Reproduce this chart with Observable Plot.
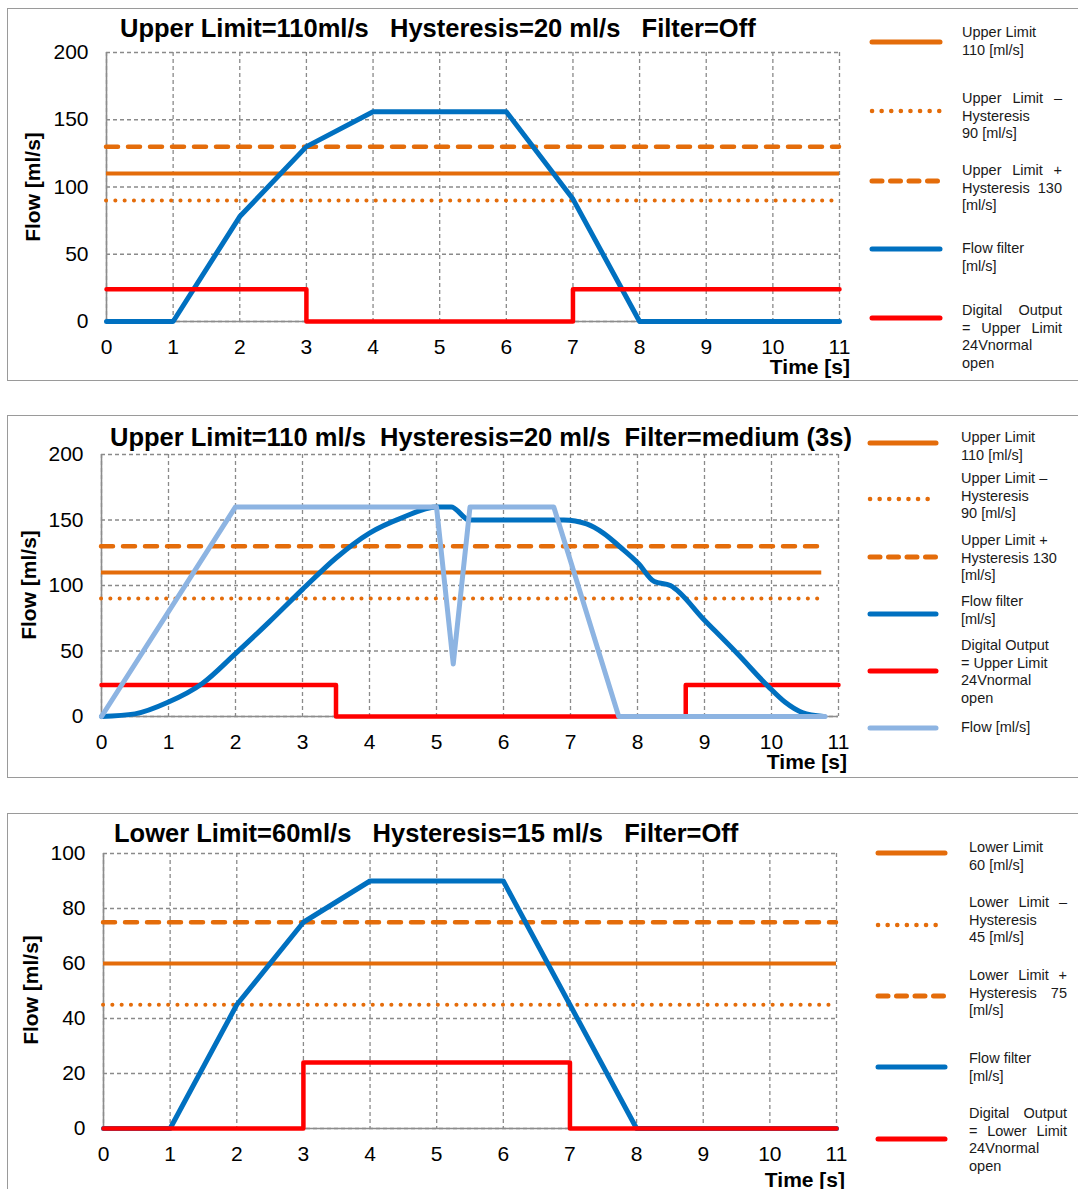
<!DOCTYPE html>
<html>
<head>
<meta charset="utf-8">
<script src="https://cdn.jsdelivr.net/npm/d3@7"></script>
<script src="https://cdn.jsdelivr.net/npm/@observablehq/plot@0.6"></script>
<style>
  html, body { margin: 0; padding: 0; background: #fff; }
  #page { position: relative; width: 1078px; height: 1189px; overflow: hidden; font-family: "Liberation Sans", Arial, sans-serif; color: #000; }
  .panel { position: absolute; left: 7px; width: 1100px; border: 1.5px solid #9a9a9a; box-sizing: border-box; }
  .abs { position: absolute; white-space: pre; }
  .title { font-weight: bold; font-size: 25.5px; line-height: 30px; }
  .ylab { font-weight: bold; font-size: 21px; line-height: 24px; transform: translate(-50%, -50%) rotate(-90deg); }
  .xlab { font-weight: bold; font-size: 21px; line-height: 15px; transform: translate(-100%, -50%); }
  .leg { font-size: 14.5px; line-height: 17.5px; color: #1a1a1a; }
  .just { text-align: justify; text-align-last: justify; white-space: normal; }
  svg.sw { position: absolute; left: 0; top: 0; overflow: visible; }
</style>
</head>
<body>
<div id="page"></div>
<script>
// ---------- data ----------
const ticksX = [0, 1, 2, 3, 4, 5, 6, 7, 8, 9, 10, 11];
const ticksY200 = [0, 50, 100, 150, 200];
const ticksY100 = [0, 20, 40, 60, 80, 100];

// Panel 1: Upper limit, filter off
const p1Title = "Upper Limit=110ml/s   Hysteresis=20 ml/s   Filter=Off";
const p1Time = [0, 1, 2, 3, 4, 6, 7, 8, 11];
const p1Flow = [0, 0, 78, 130, 156, 156, 91, 0, 0];
const p1DoTime = [0, 3, 7, 11];
const p1DoVal = [24, 0, 24, 24];
const p1Limits = [110, 90, 130]; // limit, limit - hyst, limit + hyst
const p1Span = [0, 11];
const p1Legend = [
  [["Upper Limit", 0], ["110 [ml/s]", 0]],
  [["Upper Limit –", 1], ["Hysteresis", 0], ["90 [ml/s]", 0]],
  [["Upper Limit +", 1], ["Hysteresis 130", 1], ["[ml/s]", 0]],
  [["Flow filter", 0], ["[ml/s]", 0]],
  [["Digital Output", 1], ["= Upper Limit", 1], ["24Vnormal", 0], ["open", 0]]
];

// Panel 2: Upper limit, filter medium
const p2Title = "Upper Limit=110 ml/s  Hysteresis=20 ml/s  Filter=medium (3s)";
const p2FlowTime = [0, 2, 5, 5.25, 5.5, 6.75, 7.72, 10.8];
const p2FlowVal = [0, 160, 160, 40, 160, 160, 0, 0];
const p2FiltTime = [0, 0.5, 1, 1.5, 2, 2.5, 3, 3.5, 4, 4.5, 5, 5.22, 5.49, 6.9, 7.24, 7.49, 7.75, 8.01, 8.25, 8.49, 9, 9.5, 9.95, 10.2, 10.46, 10.78];
const p2FiltVal = [0, 2, 11, 25, 48, 72, 97, 121, 140, 152, 160, 160, 150, 150, 147, 140, 129, 117, 103, 100, 73.5, 47.5, 23, 11, 3, 0];
const p2DoTime = [0, 3.5, 8.72, 11];
const p2DoVal = [24, 0, 24, 24];
const p2Limits = [110, 90, 130];
const p2Span = [0, 10.75];
const p2Legend = [
  [["Upper Limit", 0], ["110 [ml/s]", 0]],
  [["Upper Limit –", 0], ["Hysteresis", 0], ["90 [ml/s]", 0]],
  [["Upper Limit +", 0], ["Hysteresis 130", 0], ["[ml/s]", 0]],
  [["Flow filter", 0], ["[ml/s]", 0]],
  [["Digital Output", 0], ["= Upper Limit", 0], ["24Vnormal", 0], ["open", 0]],
  [["Flow [ml/s]", 0]]
];

// Panel 3: Lower limit, filter off
const p3Title = "Lower Limit=60ml/s   Hysteresis=15 ml/s   Filter=Off";
const p3Time = [0, 1, 2, 3, 4, 6, 7, 8, 11];
const p3Flow = [0, 0, 45, 75, 90, 90, 45, 0, 0];
const p3DoTime = [0, 3, 7, 11];
const p3DoVal = [0, 24, 0, 0];
const p3Limits = [60, 45, 75];
const p3Span = [0, 11];
const p3Legend = [
  [["Lower Limit", 0], ["60 [ml/s]", 0]],
  [["Lower Limit –", 1], ["Hysteresis", 0], ["45 [ml/s]", 0]],
  [["Lower Limit +", 1], ["Hysteresis 75", 1], ["[ml/s]", 0]],
  [["Flow filter", 0], ["[ml/s]", 0]],
  [["Digital Output", 1], ["= Lower Limit", 1], ["24Vnormal", 0], ["open", 0]]
];

// ---------- styles ----------
const ORANGE = "#E46C0A";
const BLUE = "#0070C0";
const RED = "#FF0000";
const LIGHT = "#8DB4E2";
const GRID = "#8a8a8a";

const page = document.getElementById("page");
const zipT = (xs, ys) => xs.map((x, i) => ({x, y: ys[i]}));

function addDiv(cls, text, left, top, extra) {
  const d = document.createElement("div");
  d.className = "abs " + cls;
  d.textContent = text;
  d.style.left = left + "px";
  d.style.top = top + "px";
  if (extra) Object.assign(d.style, extra);
  page.appendChild(d);
  return d;
}

function buildPanel(c) {
  const box = document.createElement("div");
  box.className = "panel";
  box.style.top = c.boxTop + "px";
  box.style.height = c.boxH + "px";
  page.appendChild(box);

  const limMarks = [
    Plot.ruleY([c.limits[0]], {x1: c.span[0], x2: c.span[1], stroke: ORANGE, strokeWidth: 4}),
    Plot.ruleY([c.limits[1]], {x1: c.span[0], x2: c.span[1], stroke: ORANGE, strokeWidth: 4, strokeDasharray: "0.1 9.2", strokeLinecap: "round"}),
    Plot.ruleY([c.limits[2]], {x1: c.span[0], x2: c.span[1], stroke: ORANGE, strokeWidth: 4.5, strokeDasharray: "12 10", strokeLinecap: "round"})
  ];

  const chart = Plot.plot({
    width: 1078,
    height: c.h,
    marginLeft: c.mL, marginRight: c.mR, marginTop: c.mT, marginBottom: c.mB,
    x: {domain: [0, 11]},
    y: {domain: [0, c.ymax]},
    style: {fontFamily: '"Liberation Sans", Arial, sans-serif', fontSize: "21px", color: "#000", background: "transparent", overflow: "visible"},
    marks: [
      Plot.gridX(ticksX, {stroke: GRID, strokeOpacity: 1, strokeWidth: 1.3, strokeDasharray: "4 3"}),
      Plot.gridY(c.ticksY, {stroke: GRID, strokeOpacity: 1, strokeWidth: 1.3, strokeDasharray: "4 3"}),
      Plot.ruleX([0], {stroke: "#8c8c8c", strokeWidth: 1.6}),
      Plot.ruleY([0], {stroke: "#8c8c8c", strokeWidth: 1.6}),
      Plot.axisX(ticksX, {tickSize: 0, tickPadding: 18, label: null, fontSize: 21}),
      Plot.axisY(c.ticksY, {tickSize: 0, tickPadding: 18, label: null, fontSize: 21}),
      ...limMarks,
      ...c.series
    ]
  });
  chart.style.position = "absolute";
  chart.style.left = "0px";
  chart.style.top = c.svgTop + "px";
  page.appendChild(chart);

  addDiv("title", c.title, c.titleX, c.titleY - 15);
  addDiv("ylab", "Flow [ml/s]", c.ylabX, c.ylabY);
  addDiv("xlab", "Time [s]", c.xlabR, c.xlabY);

  // legend
  const sw = document.createElementNS("http://www.w3.org/2000/svg", "svg");
  sw.setAttribute("class", "sw");
  sw.setAttribute("width", 1078);
  sw.setAttribute("height", 1189);
  const styles = c.legStyles;
  c.legend.forEach((item, i) => {
    const y = c.legSwY[i];
    const s = styles[i];
    const ln = document.createElementNS("http://www.w3.org/2000/svg", "line");
    ln.setAttribute("x1", c.swX1); ln.setAttribute("x2", c.swX2);
    ln.setAttribute("y1", y); ln.setAttribute("y2", y);
    ln.setAttribute("stroke", s.color);
    ln.setAttribute("stroke-width", s.w);
    ln.setAttribute("stroke-linecap", "round");
    if (s.dash) ln.setAttribute("stroke-dasharray", s.dash);
    sw.appendChild(ln);
    item.forEach(([txt, just], j) => {
      const cy = c.legTextY[i] + j * 17.5;
      const d = addDiv("leg" + (just ? " just" : ""), txt, c.textX, cy - 8.75);
      d.style.width = c.textW + "px";
    });
  });
  page.appendChild(sw);
}

const legOrange = [
  {color: ORANGE, w: 5},
  {color: ORANGE, w: 4.5, dash: "0.1 9.5"},
  {color: ORANGE, w: 5, dash: "10 8.5"},
  {color: BLUE, w: 5},
  {color: RED, w: 5}
];

buildPanel({
  boxTop: 8, boxH: 373,
  svgTop: 0, h: 380, mL: 106, mR: 239, mT: 52, mB: 59,
  ymax: 200, ticksY: ticksY200,
  limits: p1Limits, span: p1Span,
  series: [
    Plot.line(zipT(p1Time, p1Flow), {x: "x", y: "y", stroke: BLUE, strokeWidth: 5, strokeLinejoin: "round"}),
    Plot.line(zipT(p1DoTime, p1DoVal), {x: "x", y: "y", stroke: RED, strokeWidth: 4.5, curve: "step-after"})
  ],
  title: p1Title, titleX: 120, titleY: 28,
  ylabX: 33, ylabY: 187,
  xlabR: 850, xlabY: 366,
  legend: p1Legend, legStyles: legOrange,
  legSwY: [42, 111, 181, 249, 318],
  legTextY: [33, 99, 171, 249, 311],
  swX1: 872, swX2: 940, textX: 962, textW: 100
});

buildPanel({
  boxTop: 415, boxH: 363,
  svgTop: 400, h: 380, mL: 101, mR: 240, mT: 54, mB: 64,
  ymax: 200, ticksY: ticksY200,
  limits: p2Limits, span: p2Span,
  series: [
    Plot.line(zipT(p2DoTime, p2DoVal), {x: "x", y: "y", stroke: RED, strokeWidth: 4.5, curve: "step-after"}),
    Plot.line(zipT(p2FiltTime, p2FiltVal), {x: "x", y: "y", stroke: BLUE, strokeWidth: 5, strokeLinejoin: "round", curve: "monotone-x"}),
    Plot.line(zipT(p2FlowTime, p2FlowVal), {x: "x", y: "y", stroke: LIGHT, strokeWidth: 5, strokeLinejoin: "round"})
  ],
  title: p2Title, titleX: 110, titleY: 437,
  ylabX: 29, ylabY: 585,
  xlabR: 847, xlabY: 761,
  legend: p2Legend, legStyles: [...legOrange, {color: LIGHT, w: 5}],
  legSwY: [443, 499, 557, 614, 671, 728],
  legTextY: [438, 479, 541, 602, 646, 728],
  swX1: 870, swX2: 936, textX: 961, textW: 110
});

buildPanel({
  boxTop: 813, boxH: 420,
  svgTop: 800, h: 389, mL: 103, mR: 242, mT: 53, mB: 61,
  ymax: 100, ticksY: ticksY100,
  limits: p3Limits, span: p3Span,
  series: [
    Plot.line(zipT(p3Time, p3Flow), {x: "x", y: "y", stroke: BLUE, strokeWidth: 5, strokeLinejoin: "round"}),
    Plot.line(zipT(p3DoTime, p3DoVal), {x: "x", y: "y", stroke: RED, strokeWidth: 4.5, curve: "step-after"})
  ],
  title: p3Title, titleX: 114, titleY: 833,
  ylabX: 31, ylabY: 990,
  xlabR: 845, xlabY: 1179,
  legend: p3Legend, legStyles: legOrange,
  legSwY: [853, 925, 996, 1067, 1139],
  legTextY: [848, 903, 976, 1059, 1114],
  swX1: 878, swX2: 945, textX: 969, textW: 98
});
</script>
</body>
</html>
